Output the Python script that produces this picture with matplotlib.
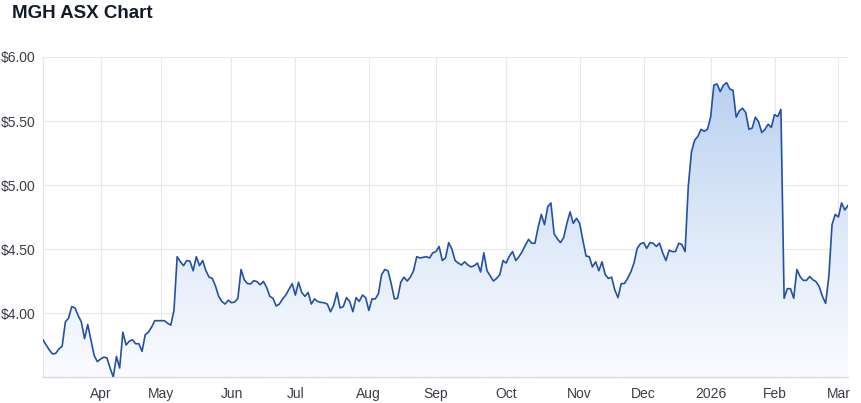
import numpy as np
import matplotlib
matplotlib.use("Agg")
import matplotlib.pyplot as plt
from matplotlib.colors import LinearSegmentedColormap

plt.rcParams['font.family'] = ['Liberation Sans', 'DejaVu Sans']

# Daily closing prices (AUD), grouped by month (trading days)
prices_2025_03 = [3.79, 3.75, 3.71, 3.68, 3.685, 3.72, 3.74, 3.93, 3.96, 4.05, 4.04, 3.98, 3.93, 3.80, 3.91, 3.79, 3.67, 3.62]
prices_2025_04 = [3.64, 3.655, 3.65, 3.57, 3.50, 3.66, 3.57, 3.85, 3.75, 3.78, 3.79, 3.76, 3.76, 3.70, 3.83, 3.85, 3.89, 3.94, 3.94]
prices_2025_05 = [3.94, 3.94, 3.92, 3.905, 4.02, 4.44, 4.40, 4.37, 4.41, 4.405, 4.33, 4.44, 4.37, 4.41, 4.33, 4.28, 4.27, 4.21, 4.13, 4.09, 4.07, 4.10]
prices_2025_06 = [4.08, 4.085, 4.115, 4.34, 4.26, 4.23, 4.227, 4.253, 4.245, 4.22, 4.247, 4.20, 4.13, 4.115, 4.055, 4.07, 4.11, 4.14, 4.185, 4.23]
prices_2025_07 = [4.14, 4.24, 4.16, 4.13, 4.16, 4.07, 4.11, 4.09, 4.083, 4.08, 4.07, 4.01, 4.06, 4.16, 4.04, 4.05, 4.12, 4.09, 4.01, 4.12, 4.09, 4.14, 4.12]
prices_2025_08 = [4.02, 4.11, 4.11, 4.15, 4.30, 4.34, 4.33, 4.23, 4.11, 4.115, 4.24, 4.28, 4.25, 4.28, 4.33, 4.44, 4.43, 4.435, 4.44, 4.43, 4.47]
prices_2025_09 = [4.48, 4.52, 4.41, 4.43, 4.55, 4.50, 4.41, 4.39, 4.375, 4.40, 4.375, 4.36, 4.37, 4.39, 4.32, 4.47, 4.33, 4.29, 4.25, 4.27, 4.30, 4.41]
prices_2025_10 = [4.39, 4.445, 4.48, 4.41, 4.44, 4.48, 4.53, 4.575, 4.545, 4.545, 4.67, 4.77, 4.69, 4.83, 4.86, 4.62, 4.58, 4.55, 4.59, 4.70, 4.79, 4.70, 4.74]
prices_2025_11 = [4.70, 4.57, 4.445, 4.44, 4.36, 4.40, 4.33, 4.40, 4.30, 4.27, 4.28, 4.18, 4.12, 4.23, 4.23, 4.27, 4.32, 4.39, 4.505, 4.54]
prices_2025_12 = [4.55, 4.505, 4.55, 4.545, 4.52, 4.545, 4.47, 4.41, 4.49, 4.48, 4.48, 4.545, 4.535, 4.48, 4.99, 5.26, 5.35, 5.38, 5.435, 5.42, 5.435]
prices_2026_01 = [5.53, 5.78, 5.79, 5.73, 5.78, 5.80, 5.75, 5.74, 5.53, 5.58, 5.60, 5.565, 5.435, 5.445, 5.53, 5.495, 5.41, 5.435, 5.475, 5.45]
prices_2026_02 = [5.55, 5.535, 5.59, 4.115, 4.19, 4.19, 4.115, 4.34, 4.285, 4.255, 4.255, 4.285, 4.26, 4.245, 4.205, 4.13, 4.075, 4.285, 4.69, 4.77]
prices_2026_03 = [4.75, 4.86, 4.805, 4.84]

month_blocks = [prices_2025_03, prices_2025_04, prices_2025_05, prices_2025_06,
                prices_2025_07, prices_2025_08, prices_2025_09, prices_2025_10,
                prices_2025_11, prices_2025_12, prices_2026_01, prices_2026_02,
                prices_2026_03]
month_labels = ["Apr", "May", "Jun", "Jul", "Aug", "Sep", "Oct", "Nov", "Dec", "2026", "Feb", "Mar"]
y_ticks = [4.0, 4.5, 5.0, 5.5, 6.0]
y_tick_labels = ["$4.00", "$4.50", "$5.00", "$5.50", "$6.00"]
title = "MGH ASX Chart"

prices = np.concatenate([np.array(b, dtype=float) for b in month_blocks])
x = np.arange(len(prices))
month_starts = np.cumsum([len(b) for b in month_blocks])[:-1]

W, H = 861, 403
fig = plt.figure(figsize=(W / 100, H / 100), dpi=100)
fig.patch.set_facecolor('white')
ax = fig.add_axes([43 / W, 26 / H, 805 / W, 320 / H])

ymin, ymax = 3.5, 6.0
ax.set_xlim(0, len(prices) - 1)
ax.set_ylim(ymin, ymax)

# gradient fill under the line
poly = ax.fill_between(x, prices, ymin, facecolor='none', edgecolor='none')
cmap = LinearSegmentedColormap.from_list('g', ['#fafcff', '#dbe7f8', '#b3ccf0'])
grad = np.linspace(0, 1, 256).reshape(-1, 1)
im = ax.imshow(grad, cmap=cmap, origin='lower', aspect='auto',
               extent=[0, len(prices) - 1, ymin, ymax], zorder=1, interpolation='bilinear')
im.set_clip_path(poly.get_paths()[0], transform=ax.transData)

ax.plot(x, prices, color='#2451a4', lw=1.2, zorder=3, solid_joinstyle='round')

ax.set_yticks(y_ticks)
ax.set_yticklabels(y_tick_labels)
ax.set_xticks(month_starts)
ax.set_xticklabels(month_labels)
ax.grid(True, color='#e9e9ec', lw=0.8, zorder=0)
ax.set_axisbelow(True)
ax.tick_params(axis='both', length=0, labelsize=10, labelcolor='#3c3c46')
ax.tick_params(axis='y', pad=5)
ax.tick_params(axis='x', pad=7)

for s in ['top', 'right']:
    ax.spines[s].set_visible(False)
ax.spines['left'].set_color('#e6e6e9')
ax.spines['left'].set_linewidth(0.8)
ax.spines['bottom'].set_color('#d9d9dd')
ax.spines['bottom'].set_linewidth(1.0)

fig.text(12 / W, 1 - 14 / H, title, fontsize=13.5, fontweight='bold',
         color='#141a2b', va='center', ha='left')

fig.savefig('out.png', dpi=100)
